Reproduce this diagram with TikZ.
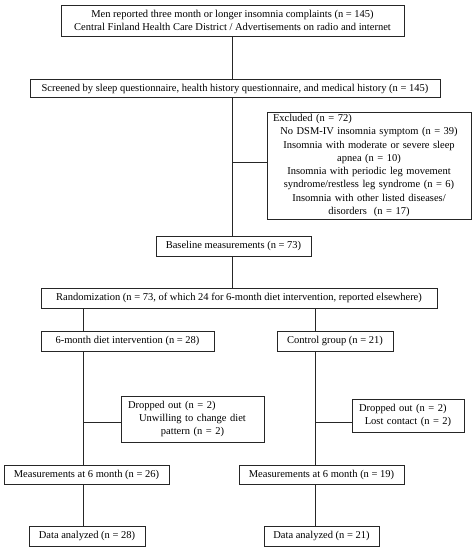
\documentclass[tikz,border=0pt]{standalone}
\usepackage{fontspec}
\setmainfont{Liberation Serif}
\begin{document}
\begin{tikzpicture}[x=1pt,y=-1pt,
  box/.style={draw=black!85, line width=0.8pt, inner sep=0pt, align=center, font=\fontsize{10.5}{13.3}\selectfont},
  conn/.style={draw=black!85, line width=0.8pt}]
\useasboundingbox (0,0) rectangle (473,550);
\fill[white] (0,0) rectangle (473,550);
% nodes
\node[box, minimum width=343pt, minimum height=31pt] (b1) at (232.5,20.5)
  {Men reported three month or longer insomnia complaints (n = 145)\\Central Finland Health Care District / Advertisements on radio and internet};
\node[box, minimum width=410pt, minimum height=18pt] (b2) at (235,88.5)
  {Screened by sleep questionnaire, health history questionnaire, and medical history (n = 145)};
\node[box, minimum width=204pt, minimum height=107pt, text width=192pt] (excl) at (369,165.5)
  {\makebox[192pt][l]{Excluded (n = 72)}\\No DSM-IV insomnia symptom (n = 39)\\Insomnia with moderate or severe sleep\\apnea (n = 10)\\Insomnia with periodic leg movement\\syndrome/restless leg syndrome (n = 6)\\Insomnia with other listed diseases/\\disorders\ \ (n = 17)};
\node[box, minimum width=155pt, minimum height=20pt] (base) at (233.5,246)
  {Baseline measurements (n = 73)};
\node[box, minimum width=396pt, minimum height=20pt] (rand) at (239,298)
  {Randomization (n = 73, of which 24 for 6-month diet intervention, reported elsewhere)};
\node[box, minimum width=173pt, minimum height=20pt] (diet) at (127.5,341)
  {6-month diet intervention (n = 28)};
\node[box, minimum width=116pt, minimum height=20pt] (ctrl) at (335,341)
  {Control group (n = 21)};
\node[box, minimum width=143pt, minimum height=46pt, text width=129pt] (drop1) at (192.5,419)
  {\makebox[129pt][l]{Dropped out (n = 2)}\\Unwilling to change diet\\pattern (n = 2)};
\node[box, minimum width=112pt, minimum height=33pt, text width=98pt] (drop2) at (408,415.5)
  {\makebox[98pt][l]{Dropped out (n = 2)}\\Lost contact (n = 2)};
\node[box, minimum width=165pt, minimum height=19pt] (meas1) at (86.5,474.5)
  {Measurements at 6 month (n = 26)};
\node[box, minimum width=165pt, minimum height=19pt] (meas2) at (321.5,474.5)
  {Measurements at 6 month (n = 19)};
\node[box, minimum width=116pt, minimum height=20pt] (data1) at (87,536)
  {Data analyzed (n = 28)};
\node[box, minimum width=115pt, minimum height=20pt] (data2) at (321.5,536)
  {Data analyzed (n = 21)};
% connector guides
\coordinate (cm) at (232,0);
\coordinate (cl) at (83,0);
\coordinate (cr) at (315,0);
\coordinate (jex) at (232,162);
\coordinate (jd1) at (83,422);
\coordinate (jd2) at (315,422);
% connectors
\draw[conn] (b1.south -| cm) -- (b2.north -| cm);
\draw[conn] (b2.south -| cm) -- (base.north -| cm);
\draw[conn] (jex) -- (jex -| excl.west);
\draw[conn] (base.south -| cm) -- (rand.north -| cm);
\draw[conn] (rand.south -| cl) -- (diet.north -| cl);
\draw[conn] (rand.south -| cr) -- (ctrl.north -| cr);
\draw[conn] (diet.south -| cl) -- (meas1.north -| cl);
\draw[conn] (jd1) -- (jd1 -| drop1.west);
\draw[conn] (ctrl.south -| cr) -- (meas2.north -| cr);
\draw[conn] (jd2) -- (jd2 -| drop2.west);
\draw[conn] (meas1.south -| cl) -- (data1.north -| cl);
\draw[conn] (meas2.south -| cr) -- (data2.north -| cr);
\end{tikzpicture}
\end{document}
